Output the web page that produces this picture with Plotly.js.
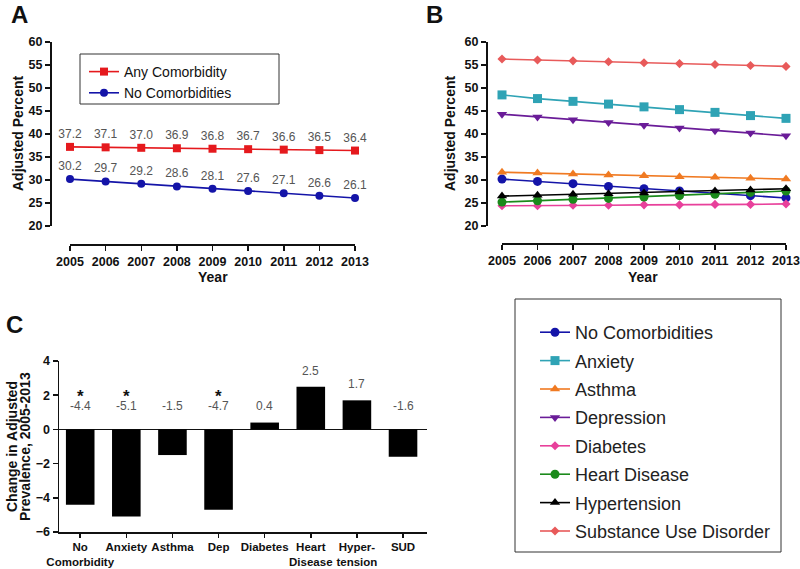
<!DOCTYPE html>
<html>
<head>
<meta charset="utf-8">
<script src="https://cdn.plot.ly/plotly-3.0.1.min.js"></script>
<style>
  html, body { margin: 0; padding: 0; background: #fff; }
  #chart { width: 800px; height: 569px; }
</style>
</head>
<body>
<div id="chart"></div>
<script>
const years = [2005, 2006, 2007, 2008, 2009, 2010, 2011, 2012, 2013];

// panel A
const anyComorb = [37.2, 37.1, 37.0, 36.9, 36.8, 36.7, 36.6, 36.5, 36.4];
const noComorb = [30.2, 29.7, 29.2, 28.6, 28.1, 27.6, 27.1, 26.6, 26.1];

// panel B
const anxiety = [48.5, 47.7, 47.1, 46.5, 45.9, 45.3, 44.7, 44.0, 43.4];
const asthma = [31.7, 31.5, 31.3, 31.1, 30.9, 30.7, 30.6, 30.4, 30.2];
const depression = [44.3, 43.7, 43.1, 42.5, 41.9, 41.3, 40.7, 40.2, 39.6];
const diabetes = [24.4, 24.4, 24.5, 24.5, 24.6, 24.6, 24.7, 24.7, 24.8];
const heartDisease = [25.2, 25.5, 25.8, 26.0, 26.3, 26.6, 26.9, 27.3, 27.6];
const hypertension = [26.5, 26.7, 26.9, 27.0, 27.2, 27.4, 27.6, 27.8, 28.1];
const sud = [56.3, 56.1, 55.9, 55.7, 55.5, 55.3, 55.1, 54.9, 54.7];

// panel C
const changeCats = ['No<br>Comorbidity', 'Anxiety', 'Asthma', 'Dep', 'Diabetes', 'Heart<br>Disease', 'Hyper-<br>tension', 'SUD'];
const changeVals = [-4.4, -5.1, -1.5, -4.7, 0.4, 2.5, 1.7, -1.6];
const significant = [true, true, false, true, false, false, false, false];

const font = 'Arial, "Liberation Sans", sans-serif';
const px = v => v / 800;
const py = v => 1 - v / 569;

function series(name, y, color, symbol, size, ax, legend) {
    return {
        x: years, y: y, name: name,
        type: 'scatter', mode: 'lines+markers',
        xaxis: 'x' + ax, yaxis: 'y' + ax, legend: legend,
        line: { color: color, width: 1.6 },
        marker: { color: color, symbol: symbol, size: size },
        cliponaxis: false
    };
}

const traceAny = series('Any Comorbidity', anyComorb, '#e5191d', 'square', 8, '', 'legend');
const traceNo = series('No Comorbidities', noComorb, '#1414a8', 'circle', 8, '', 'legend');
[traceAny, traceNo].forEach(t => {
    t.mode = 'lines+markers+text';
    t.text = t.y.map(v => v.toFixed(1));
    t.textposition = 'top center';
    t.textfont = { family: font, size: 12, color: '#555' };
});

const bTraces = [
    series('No Comorbidities', noComorb, '#1414a8', 'circle', 9, '2', 'legend2'),
    series('Anxiety', anxiety, '#2fa3b5', 'square', 9, '2', 'legend2'),
    series('Asthma', asthma, '#f07a22', 'triangle-up', 9, '2', 'legend2'),
    series('Depression', depression, '#6a1c98', 'triangle-down', 9, '2', 'legend2'),
    series('Diabetes', diabetes, '#e8409b', 'diamond', 7, '2', 'legend2'),
    series('Heart Disease', heartDisease, '#1b8a1b', 'circle', 9, '2', 'legend2'),
    series('Hypertension', hypertension, '#000000', 'triangle-up', 9, '2', 'legend2'),
    series('Substance Use Disorder', sud, '#e85a5a', 'diamond', 7, '2', 'legend2')
];
// separate groups so the gap between rows can be widened
bTraces.forEach(t => { t.legendgroup = t.name; });

const bars = {
    x: changeCats, y: changeVals, type: 'bar',
    xaxis: 'x3', yaxis: 'y3', showlegend: false,
    width: 0.62,
    marker: { color: '#000', line: { width: 0 } }
};

const axisBase = {
    showline: true, linecolor: '#111', linewidth: 1.5,
    ticks: 'outside', ticklen: 5, tickwidth: 1.5, tickcolor: '#111',
    showgrid: false, zeroline: false, fixedrange: true, automargin: false,
    tickfont: { family: font, size: 12.5, color: '#111', weight: 'bold' }
};

function label(text, x, y, size, extra) {
    return Object.assign({
        text: text, x: px(x), y: py(y), xref: 'paper', yref: 'paper',
        showarrow: false, xanchor: 'center', yanchor: 'middle',
        font: { family: font, size: size, color: '#111', weight: 'bold' }
    }, extra || {});
}

const annotations = [
    label('A', 19, 14, 24),
    label('B', 434, 14, 24),
    label('C', 14, 324, 24),
    label('Adjusted Percent', 18, 134, 14, { textangle: -90 }),
    label('Adjusted Percent', 450, 134, 14, { textangle: -90 }),
    label('Year', 213, 277, 14),
    label('Year', 643, 277, 14),
    // two-line title, set as two rows to keep them tight
    label('Change in Adjusted', 12, 447, 14, { textangle: -90 }),
    label('Prevalence, 2005-2013', 25, 447, 14, { textangle: -90 })
];

changeCats.forEach((c, i) => {
    const v = changeVals[i];
    annotations.push({
        text: v.toFixed(1), x: c, y: Math.max(v, 0.45), xref: 'x3', yref: 'y3',
        yshift: 16, showarrow: false,
        font: { family: font, size: 12, color: '#555' }
    });
    if (significant[i]) {
        annotations.push({
            text: '*', x: c, y: 0.45, xref: 'x3', yref: 'y3',
            yshift: 25, showarrow: false,
            font: { family: font, size: 17, color: '#111', weight: 'bold' }
        });
    }
});

const layout = {
    width: 800, height: 569,
    margin: { l: 0, r: 0, t: 0, b: 0 },
    paper_bgcolor: '#fff', plot_bgcolor: 'rgba(0,0,0,0)',
    showlegend: true,
    xaxis: Object.assign({}, axisBase, {
        domain: [px(70), px(355)], range: [2005, 2013], dtick: 1,
        anchor: 'free', position: py(244)
    }),
    yaxis: Object.assign({}, axisBase, {
        domain: [py(226), py(42)], range: [20, 60], dtick: 5,
        anchor: 'free', position: px(50)
    }),
    xaxis2: Object.assign({}, axisBase, {
        domain: [px(502), px(786)], range: [2005, 2013], dtick: 1,
        anchor: 'free', position: py(243)
    }),
    yaxis2: Object.assign({}, axisBase, {
        domain: [py(226), py(42)], range: [20, 60], dtick: 5,
        anchor: 'free', position: px(486)
    }),
    xaxis3: Object.assign({}, axisBase, {
        domain: [px(59), px(427)], type: 'category', range: [-0.46, 7.52],
        anchor: 'y3', tickangle: 0, ticklen: 4,
        tickfont: { family: font, size: 11.5, color: '#111', weight: 'bold' }
    }),
    yaxis3: Object.assign({}, axisBase, {
        domain: [py(532), py(361)], range: [-6, 4], dtick: 2,
        anchor: 'x3',
        zeroline: true, zerolinecolor: '#111', zerolinewidth: 1.5
    }),
    legend: {
        x: px(84), y: py(56), xanchor: 'left', yanchor: 'top',
        bgcolor: 'rgba(0,0,0,0)', borderwidth: 0, tracegroupgap: 0,
        font: { family: font, size: 14, color: '#111' }
    },
    legend2: {
        x: px(535), y: py(314), xanchor: 'left', yanchor: 'top',
        bgcolor: 'rgba(0,0,0,0)', borderwidth: 0, tracegroupgap: 2,
        font: { family: font, size: 18, color: '#222' }
    },
    shapes: [
        { type: 'rect', xref: 'paper', yref: 'paper', x0: px(80), x1: px(279), y0: py(54), y1: py(104),
          line: { color: '#333', width: 1 } },
        { type: 'rect', xref: 'paper', yref: 'paper', x0: px(515), x1: px(781), y0: py(299), y1: py(552),
          line: { color: '#333', width: 1 } }
    ],
    annotations: annotations
};

Plotly.newPlot('chart', [traceAny, traceNo, ...bTraces, bars], layout, { displayModeBar: false, staticPlot: true });
</script>
</body>
</html>
